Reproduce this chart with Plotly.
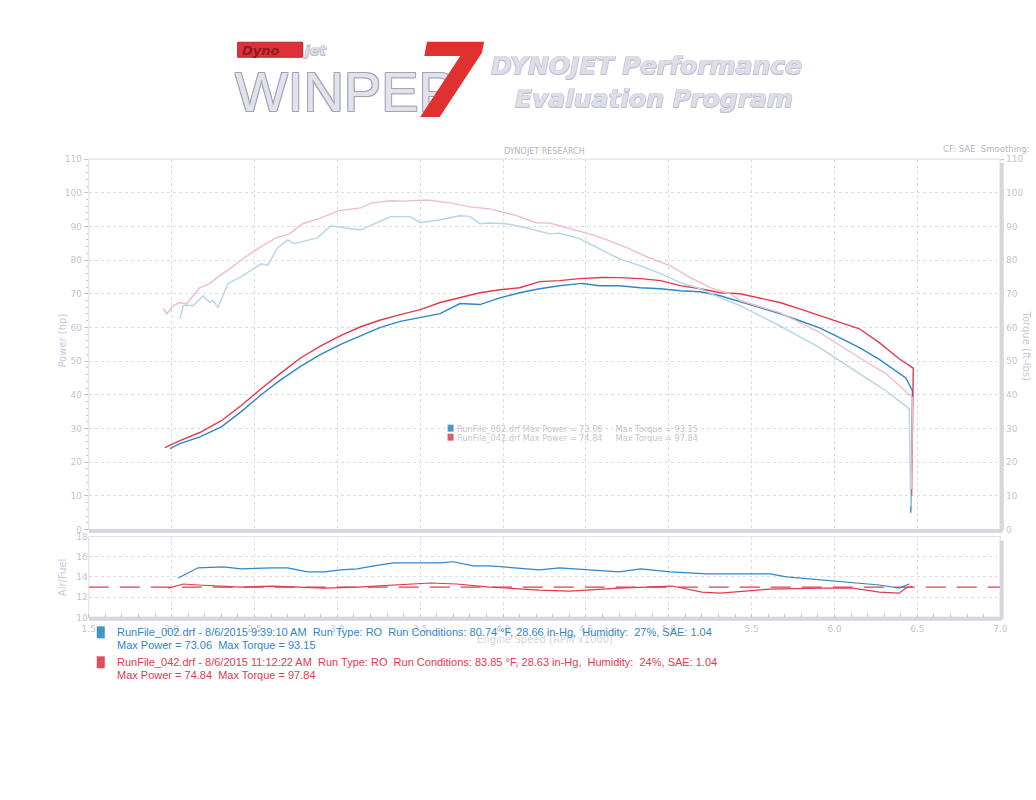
import plotly.graph_objects as go

# ---------------- data ----------------
rpm_hp_042 = [1.96, 2.05, 2.17, 2.30, 2.42, 2.54, 2.66, 2.78, 2.90, 3.02, 3.14, 3.26, 3.38, 3.50,
              3.62, 3.74, 3.86, 3.98, 4.10, 4.22, 4.34, 4.46, 4.60, 4.70, 4.83, 4.95, 5.07, 5.19,
              5.31, 5.43, 5.55, 5.67, 5.79, 5.91, 6.03, 6.15, 6.27, 6.39, 6.47, 6.475, 6.465]
hp_042 = [24.3, 26.4, 28.8, 32.3, 36.8, 41.8, 46.5, 51.0, 54.5, 57.6, 60.2, 62.2, 63.8, 65.3,
          67.4, 68.8, 70.3, 71.2, 71.8, 73.6, 73.9, 74.5, 74.84, 74.8, 74.5, 73.9, 72.4, 71.5,
          70.3, 70.0, 68.8, 67.4, 65.5, 63.5, 61.5, 59.6, 55.5, 50.7, 48.1, 48.0, 10.0]

rpm_hp_002 = [1.99, 2.05, 2.17, 2.30, 2.42, 2.54, 2.66, 2.78, 2.90, 3.02, 3.14, 3.26, 3.38, 3.50,
              3.62, 3.74, 3.86, 3.98, 4.10, 4.22, 4.34, 4.46, 4.48, 4.58, 4.70, 4.83, 4.95, 5.07,
              5.19, 5.31, 5.43, 5.55, 5.67, 5.79, 5.91, 6.03, 6.15, 6.27, 6.36, 6.43, 6.47, 6.46]
hp_002 = [24.0, 25.5, 27.5, 30.5, 35.0, 40.0, 44.5, 48.5, 52.0, 55.0, 57.5, 60.0, 61.8, 63.0,
          64.1, 67.1, 66.8, 68.8, 70.3, 71.5, 72.4, 73.0, 73.06, 72.4, 72.4, 71.8, 71.5, 70.9,
          70.6, 69.4, 67.6, 66.0, 64.1, 62.0, 59.9, 57.0, 54.0, 50.5, 47.5, 45.0, 41.2, 5.0]

rpm_tq_042 = [1.95, 1.97, 2.01, 2.05, 2.09, 2.17, 2.23, 2.29, 2.35, 2.43, 2.53, 2.63, 2.71, 2.79,
              2.89, 3.01, 3.14, 3.21, 3.32, 3.40, 3.54, 3.68, 3.80, 3.92, 4.08, 4.20, 4.28, 4.40,
              4.52, 4.64, 4.76, 4.88, 5.01, 5.13, 5.25, 5.37, 5.43, 5.67, 5.91, 6.15, 6.31, 6.47, 6.465]
tq_042 = [65.6, 64.0, 66.5, 67.4, 67.0, 71.8, 73.0, 75.4, 77.4, 80.4, 83.7, 86.6, 87.8, 90.8,
          92.3, 94.7, 95.5, 97.0, 97.6, 97.5, 97.84, 97.0, 95.8, 95.2, 93.2, 91.1, 91.0, 89.3,
          87.8, 85.8, 83.4, 80.7, 78.3, 74.8, 71.8, 70.0, 68.0, 64.4, 58.5, 51.0, 46.3, 39.2, 12.0]

rpm_tq_002 = [2.05, 2.07, 2.13, 2.19, 2.23, 2.25, 2.28, 2.34, 2.43, 2.54, 2.58, 2.64, 2.70, 2.74,
              2.88, 2.96, 3.08, 3.14, 3.24, 3.32, 3.44, 3.50, 3.62, 3.74, 3.80, 3.86, 3.92, 4.02,
              4.14, 4.22, 4.28, 4.34, 4.46, 4.58, 4.70, 4.83, 4.95, 5.07, 5.19, 5.31, 5.43, 5.67,
              5.91, 6.15, 6.31, 6.45, 6.46]
tq_002 = [62.6, 66.5, 66.5, 69.4, 67.4, 68.0, 65.9, 73.0, 75.4, 78.9, 78.5, 83.7, 86.0, 84.9,
          86.6, 90.2, 89.3, 89.0, 91.1, 92.9, 92.9, 91.1, 92.0, 93.15, 93.0, 90.8, 91.0, 90.8,
          89.6, 88.7, 87.8, 88.0, 86.4, 83.4, 80.4, 78.3, 76.0, 73.3, 71.5, 68.8, 66.5, 60.5,
          54.0, 46.3, 41.2, 35.9, 7.0]

rpm_afr_002 = [2.04, 2.16, 2.31, 2.42, 2.61, 2.70, 2.82, 2.92, 3.02, 3.12, 3.22, 3.34, 3.42, 3.62,
               3.70, 3.82, 3.92, 4.10, 4.22, 4.34, 4.70, 4.83, 5.01, 5.23, 5.31, 5.51, 5.61, 5.71,
               5.91, 6.03, 6.11, 6.27, 6.39, 6.45]
afr_002 = [13.9, 14.9, 15.0, 14.8, 14.9, 14.9, 14.5, 14.5, 14.7, 14.8, 15.1, 15.4, 15.4, 15.4,
           15.5, 15.1, 15.1, 14.9, 14.7, 14.9, 14.5, 14.8, 14.5, 14.3, 14.3, 14.3, 14.3, 14.0,
           13.7, 13.5, 13.4, 13.2, 12.9, 13.3]

rpm_afr_042 = [1.98, 2.07, 2.16, 2.42, 2.61, 2.82, 2.92, 3.12, 3.32, 3.56, 3.72, 3.92, 4.12, 4.22,
               4.40, 4.70, 5.02, 5.20, 5.31, 5.61, 5.91, 6.11, 6.27, 6.39, 6.43, 6.47]
afr_042 = [12.9, 13.3, 13.2, 13.0, 13.1, 13.0, 12.9, 13.0, 13.2, 13.4, 13.3, 13.0, 12.8, 12.7,
           12.6, 12.9, 13.1, 12.5, 12.4, 12.8, 12.9, 12.9, 12.5, 12.4, 12.9, 13.1]

afr_target_rpm = [1.5, 7.0]
afr_target = [13.0, 13.0]

x_ticks = [1.5, 2.0, 2.5, 3.0, 3.5, 4.0, 4.5, 5.0, 5.5, 6.0, 6.5, 7.0]
power_ticks = [0, 10, 20, 30, 40, 50, 60, 70, 80, 90, 100, 110]
afr_ticks = [10, 12, 14, 16, 18]

runs = [
    dict(name="RunFile_002.drf", date="8/6/2015 9:39:10 AM", temp="80.74", baro="28.66",
         hum="27%", sae="1.04", maxp="73.06", maxt="93.15"),
    dict(name="RunFile_042.drf", date="8/6/2015 11:12:22 AM", temp="83.85", baro="28.63",
         hum="24%", sae="1.04", maxp="74.84", maxt="97.84"),
]

# ---------------- style ----------------
W, H = 1036, 800
BLUE = "#2f86c8"
RED = "#e23a4c"
LBLUE = "#b4d4ea"
PINK = "#f0bccb"
TICK = "#c4c4d0"
GRID = "#dcdce4"
FRAME = "#d6d6de"

# small correction so that the photographed page lines up with the reference pixel grid
SX, OX = 0.987, 6.2
SY, OY = 0.989, 3.7

def cx(x):
    return (x - OX) / SX

def cy(y):
    return (y - OY) / SY

def px(x, y):
    return cx(x) / W, 1 - cy(y) / H

XD = [cx(88) / W, cx(1000) / W]
YD_MAIN = [1 - cy(529) / H, 1 - cy(158) / H]
YD_AFR = [1 - cy(617) / H, 1 - cy(536) / H]

fig = go.Figure()

fig.add_trace(go.Scatter(x=rpm_tq_042, y=tq_042, mode="lines", line=dict(color=PINK, width=1.4),
                         xaxis="x", yaxis="y3", showlegend=False))
fig.add_trace(go.Scatter(x=rpm_tq_002, y=tq_002, mode="lines", line=dict(color=LBLUE, width=1.4),
                         xaxis="x", yaxis="y3", showlegend=False))
fig.add_trace(go.Scatter(x=rpm_hp_002, y=hp_002, mode="lines", line=dict(color=BLUE, width=1.4),
                         xaxis="x", yaxis="y", showlegend=False))
fig.add_trace(go.Scatter(x=rpm_hp_042, y=hp_042, mode="lines", line=dict(color=RED, width=1.4),
                         xaxis="x", yaxis="y", showlegend=False))
fig.add_trace(go.Scatter(x=afr_target_rpm, y=afr_target, mode="lines",
                         line=dict(color=RED, width=1.3, dash="20px,11px"),
                         xaxis="x2", yaxis="y2", showlegend=False))
fig.add_trace(go.Scatter(x=rpm_afr_002, y=afr_002, mode="lines", line=dict(color=BLUE, width=1.2),
                         xaxis="x2", yaxis="y2", showlegend=False))
fig.add_trace(go.Scatter(x=rpm_afr_042, y=afr_042, mode="lines", line=dict(color=RED, width=1.2),
                         xaxis="x2", yaxis="y2", showlegend=False))

tickfont = dict(family="DejaVu Sans", size=9, color=TICK)
common_x = dict(range=[1.5, 7.0], tickvals=x_ticks, showgrid=True, gridcolor=GRID,
                griddash="dot", gridwidth=1, zeroline=False, showline=False,
                ticks="", fixedrange=True)

fig.update_layout(
    width=W, height=H, margin=dict(l=0, r=0, t=0, b=0),
    paper_bgcolor="white", plot_bgcolor="white", showlegend=False,
    xaxis=dict(domain=XD, anchor="y", showticklabels=False, **common_x),
    xaxis2=dict(domain=XD, anchor="y2", showticklabels=True, tickfont=tickfont,
                ticktext=[f"{v:.1f}" for v in x_ticks], ticklabelstandoff=5,
                minor=dict(dtick=0.1, ticks="inside", ticklen=3, tickcolor=TICK, showgrid=False),
                **common_x),
    yaxis=dict(domain=YD_MAIN, anchor="x", range=[0, 110], tickvals=power_ticks,
               tickfont=tickfont, showgrid=True, gridcolor=GRID, griddash="dot",
               zeroline=False, showline=False, ticks="outside", ticklen=4, tickcolor=TICK,
               minor=dict(dtick=2, ticks="outside", ticklen=2, tickcolor=TICK),
               fixedrange=True),
    yaxis3=dict(domain=YD_MAIN, anchor="x", overlaying="y", side="right", range=[0, 110],
                tickvals=power_ticks, tickfont=tickfont, showgrid=False, zeroline=False,
                showline=False, ticks="outside", ticklen=3, tickcolor=TICK,
                minor=dict(dtick=2, ticks="outside", ticklen=2, tickcolor=TICK),
                fixedrange=True),
    yaxis2=dict(domain=YD_AFR, anchor="x2", range=[10, 18], tickvals=afr_ticks,
                tickfont=tickfont, showgrid=True, gridcolor=GRID, griddash="dot",
                zeroline=False, showline=False, ticks="", fixedrange=True),
)

shapes = []
for (y0, y1) in [(YD_MAIN[0], YD_MAIN[1]), (YD_AFR[0], YD_AFR[1])]:
    shapes.append(dict(type="rect", xref="paper", yref="paper", x0=XD[0], x1=XD[1], y0=y0, y1=y1,
                       line=dict(color="#e2e2ea", width=1.2), layer="below"))
    shapes.append(dict(type="line", xref="paper", yref="paper", x0=XD[0], x1=XD[1] + 2 / W,
                       y0=y0 - 1.5 / H, y1=y0 - 1.5 / H, line=dict(color=FRAME, width=4)))
    shapes.append(dict(type="line", xref="paper", yref="paper", x0=XD[1] + 1.5 / W, x1=XD[1] + 1.5 / W,
                       y0=y0 - 1.5 / H, y1=y1 - 4 / H, line=dict(color=FRAME, width=4)))
for i, c in enumerate([BLUE, RED]):
    x0, y0 = px(447, 424 + i * 9)
    x1, y1 = px(453, 431 + i * 9)
    shapes.append(dict(type="rect", xref="paper", yref="paper", x0=x0, x1=x1, y0=y1, y1=y0,
                       fillcolor=c, line=dict(width=0), opacity=0.85))
for i, c in enumerate([BLUE, RED]):
    x0, y0 = px(96, 626 + i * 30)
    x1, y1 = px(104, 638 + i * 30)
    shapes.append(dict(type="rect", xref="paper", yref="paper", x0=x0, x1=x1, y0=y1, y1=y0,
                       fillcolor=c, line=dict(width=0), opacity=0.9))
# red badge behind "Dyno" in the logo
bx0, by0 = px(237, 41)
bx1, by1 = px(302, 56)
shapes.append(dict(type="rect", xref="paper", yref="paper", x0=bx0, x1=bx1, y0=by1, y1=by0,
                   fillcolor="#e0303a", line=dict(color="#c02028", width=1)))
fig.update_layout(shapes=shapes)

ann = []

def text(x, y, s, size, color, family="DejaVu Sans", xanchor="left", yanchor="middle",
         angle=0, bold=False, italic=False, shadow=None):
    fx, fy = px(x, y)
    f = dict(family=family, size=size, color=color)
    if bold:
        f["weight"] = "bold"
    if italic:
        f["style"] = "italic"
    if shadow:
        f["shadow"] = shadow
    ann.append(dict(x=fx, y=fy, xref="paper", yref="paper", text=s, showarrow=False,
                    xanchor=xanchor, yanchor=yanchor, textangle=angle, font=f, borderpad=0))

outline = "-1px -1px 0 #a4a4b4, 1px -1px 0 #a4a4b4, -1px 1px 0 #a4a4b4, 1px 1px 0 #a4a4b4"
thin_outline = ("-0.5px -0.5px 0 #bcbccb, 0.5px -0.5px 0 #bcbccb, "
                "-0.5px 0.5px 0 #bcbccb, 0.5px 0.5px 0 #bcbccb")

# logo
text(233, 90, "WINPEP", 56, "#e2e2ec", family="Liberation Sans", shadow=outline)
text(410, 80, "7", 104, "#e03030", family="DejaVu Sans", bold=True, italic=True)
text(240, 49, "Dyno", 13, "#901820", family="DejaVu Sans", bold=True, italic=True)
text(301, 49, "jet", 14, "#dcdce8", family="DejaVu Sans", bold=True, italic=True,
     shadow=thin_outline)
text(489, 64, "DYNOJET Performance", 25, "#dedeea", family="DejaVu Sans", bold=True, italic=True,
     shadow=thin_outline)
text(513, 97, "Evaluation Program", 25, "#dedeea", family="DejaVu Sans", bold=True, italic=True,
     shadow=thin_outline)

# header
text(544, 150, "DYNOJET RESEARCH", 8, "#b4b4c2", xanchor="center")
text(1031, 148, "CF: SAE&nbsp;&nbsp;Smoothing:", 8.5, "#b4b4c2", xanchor="right")

# axis titles
text(62, 340, "Power (hp)", 10, "#c8c8d6", xanchor="center", angle=-90)
text(1026, 345, "Torque (ft-lbs)", 10, "#c8c8d6", xanchor="center", angle=90)
text(62, 577, "Air/Fuel", 10, "#c8c8d6", xanchor="center", angle=-90)
text(544, 639, "Engine Speed (RPM x1000)", 10, "#d4d4de", xanchor="center")

# middle legend
for i, r in enumerate(runs):
    s = f"{r['name']} Max Power = {r['maxp']}&nbsp;&nbsp;&nbsp;&nbsp;&nbsp;Max Torque = {r['maxt']}"
    text(455, 428 + i * 9, s, 8.2, "#c6c6d0")

# bottom legend
for i, (r, c) in enumerate(zip(runs, [BLUE, RED])):
    y = 632 + i * 30
    l1 = (f"{r['name']} - {r['date']}&nbsp;&nbsp;Run Type: RO&nbsp;&nbsp;Run Conditions: {r['temp']} °F, "
          f"{r['baro']} in-Hg,&nbsp;&nbsp;Humidity:&nbsp;&nbsp;{r['hum']}, SAE: {r['sae']}")
    l2 = f"Max Power = {r['maxp']}&nbsp;&nbsp;Max Torque = {r['maxt']}"
    text(115, y, l1, 11, c, family="Liberation Sans")
    text(115, y + 13, l2, 11, c, family="Liberation Sans")

fig.update_layout(annotations=ann)
fig.write_html("out.html", config={"displayModeBar": False},
               post_script="document.body.style.margin='0';document.body.style.overflow='hidden';")
